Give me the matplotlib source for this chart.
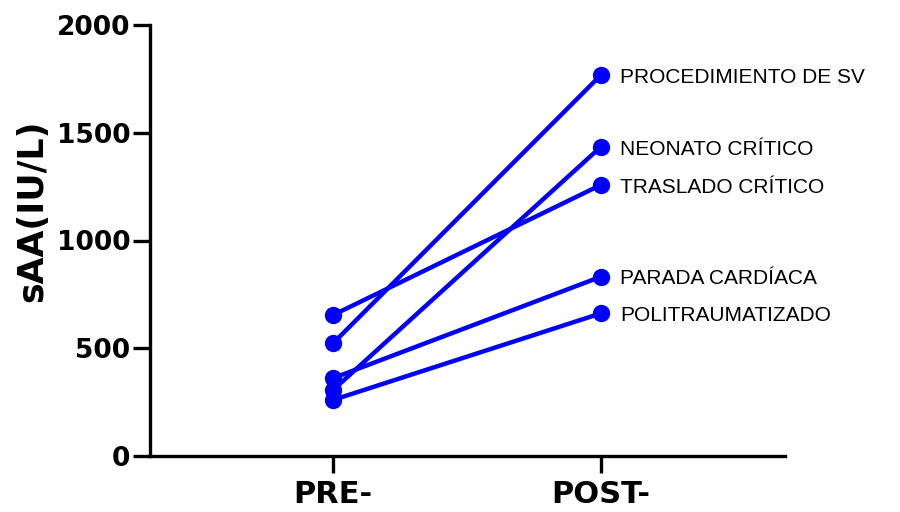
import matplotlib
matplotlib.use("Agg")
import matplotlib.pyplot as plt
from matplotlib import font_manager

# Serum amyloid A before and after each clinical situation
groups = ["PROCEDIMIENTO DE SV", "NEONATO CRÍTICO", "TRASLADO CRÍTICO",
          "PARADA CARDÍACA", "POLITRAUMATIZADO"]
pre_values = [523, 306, 654, 361, 260]
post_values = [1768, 1435, 1258, 832, 662]
time_labels = ["PRE-", "POST-"]
y_ticks = [0, 500, 1000, 1500, 2000]
y_label = "sAA(IU/L)"

installed = {f.name for f in font_manager.fontManager.ttflist}
label_family = ("Liberation Sans Narrow" if "Liberation Sans Narrow" in installed
                else "Liberation Sans")
label_size = 17 if label_family == "Liberation Sans Narrow" else 15

blue = "#0000FF"

fig = plt.figure(figsize=(9, 5.12), dpi=100)
ax = fig.add_axes([150 / 900, 1 - 456 / 512, (785 - 150) / 900, (456 - 25) / 512])

xs = [0, 1]
for name, a, b in zip(groups, pre_values, post_values):
    ax.plot(xs, [a, b], color=blue, lw=3.2, marker="o", ms=12.5,
            markeredgewidth=0, solid_capstyle="round", zorder=3)
    ax.annotate(name, xy=(1, b), xytext=(14, -5.6), textcoords="offset points",
                ha="left", va="baseline", fontsize=label_size,
                family=label_family, color="#000000")

ax.set_xlim(-0.683, 1.687)
ax.set_ylim(0, 2000)
ax.set_xticks(xs)
ax.set_xticklabels(time_labels)
ax.set_yticks(y_ticks)
ax.set_yticklabels([str(v) for v in y_ticks])

for side in ("top", "right"):
    ax.spines[side].set_visible(False)
for side in ("left", "bottom"):
    ax.spines[side].set_linewidth(2.4)
    ax.spines[side].set_color("#000000")

ax.tick_params(axis="y", length=12.5, width=2.4, pad=1.5, labelsize=19)
ax.tick_params(axis="x", length=12.5, width=2.4, pad=5, labelsize=22)
for lab in ax.get_yticklabels() + ax.get_xticklabels():
    lab.set_fontweight("bold")
    lab.set_family("DejaVu Sans")

fig.text(32 / 900, 1 - 211 / 512, y_label, rotation=90, ha="center",
         va="center", fontsize=25, fontweight="bold", family="DejaVu Sans")

fig.savefig("out.png", dpi=100)
